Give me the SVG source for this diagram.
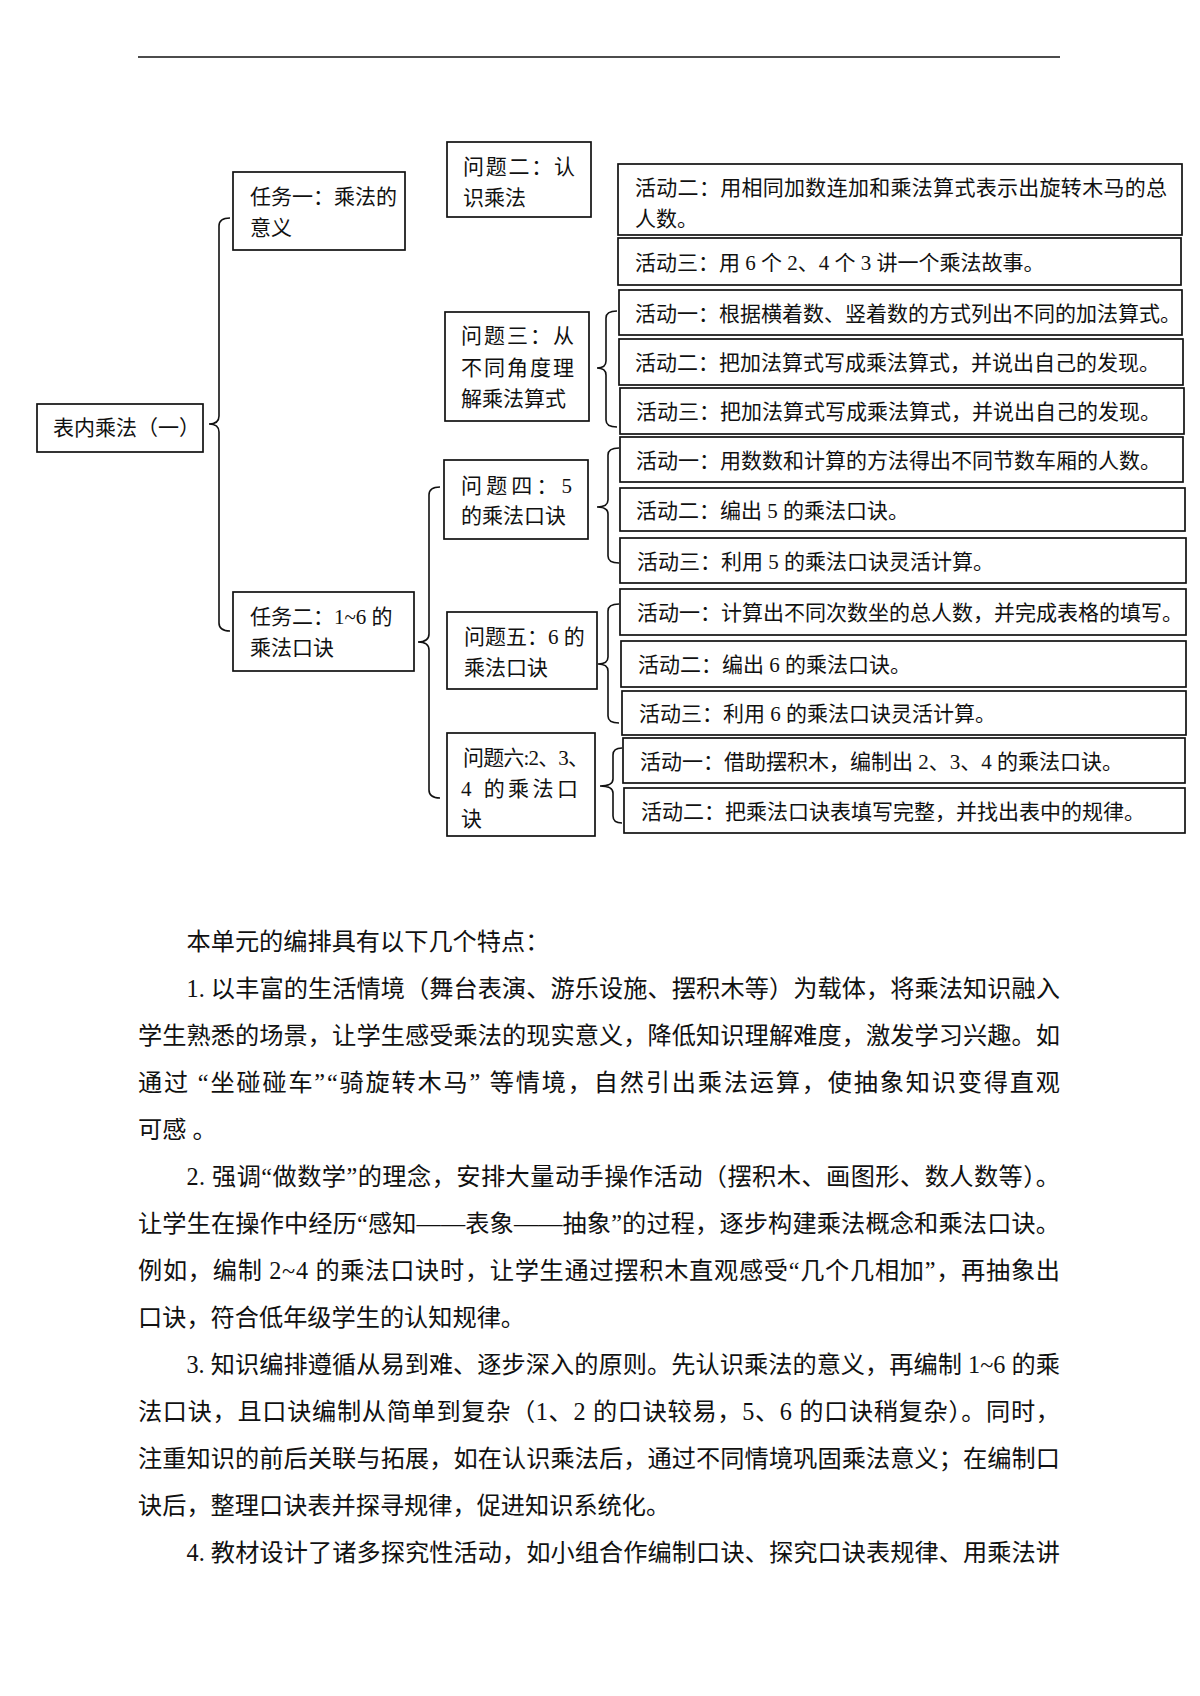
<svg xmlns="http://www.w3.org/2000/svg" width="1200" height="1696" viewBox="0 0 1200 1696">
<style>
.bx{fill:#fff;stroke:#111;stroke-width:1.7}
.br{fill:none;stroke:#111;stroke-width:1.6}
.t{font-family:"Liberation Serif","Noto Sans CJK SC",serif;font-size:21px;fill:#111}
.p{font-family:"Liberation Serif","Noto Sans CJK SC",serif;font-size:24.2px;fill:#111}
</style>
<rect x="0" y="0" width="1200" height="1696" fill="#fff"/>
<line x1="138" y1="57" x2="1060" y2="57" stroke="#111" stroke-width="1.6"/>

<g id="connectors">
<path class="br" d="M230,218 Q219,218 219,226 V416 Q219,424 209,424 Q219,424 219,432 V623 Q219,631 230,631"/>
<path class="br" d="M440,487 Q429,487 429,495 V634 Q429,642 418,642 Q429,642 429,650 V790 Q429,798 440,798"/>
<path class="br" d="M617,311 Q606,311 606,318 V361 Q606,368 597,368 Q606,368 606,375 V420 Q606,427 617,427"/>
<path class="br" d="M619,448 Q608,448 608,455 V500 Q608,507 597,507 Q608,507 608,514 V556 Q608,563 619,563"/>
<path class="br" d="M619,604 Q608,604 608,611 V657 Q608,664 598,664 Q608,664 608,671 V716 Q608,723 619,723"/>
<path class="br" d="M622,748 Q613,748 613,755 V779 Q613,786 600,786 Q613,786 613,793 V816 Q613,823 622,823"/>
</g>

<g id="root">
<rect class="bx" x="37" y="404" width="166" height="48"/>
<text class="t" x="53" y="434.5">表内乘法（一）</text>
</g>

<g id="task1">
<rect class="bx" x="233" y="172" width="172" height="78"/>
<text class="t" x="250" y="203.5">任务一：乘法的</text>
<text class="t" x="250" y="234.5">意义</text>
</g>

<g id="task2">
<rect class="bx" x="233" y="592" width="181" height="79"/>
<text class="t" x="250" y="623.5">任务二：1~6 的</text>
<text class="t" x="250" y="654.5">乘法口诀</text>
</g>

<g id="q2">
<rect class="bx" x="447" y="142" width="144" height="75"/>
<text class="t" x="463" y="173.5" textLength="112" lengthAdjust="spacing">问题二：认</text>
<text class="t" x="463" y="204.5">识乘法</text>
</g>

<g id="q3">
<rect class="bx" x="445" y="312" width="144" height="109"/>
<text class="t" x="461" y="342.5" textLength="113" lengthAdjust="spacing">问题三：从</text>
<text class="t" x="461" y="374.5" textLength="113" lengthAdjust="spacing">不同角度理</text>
<text class="t" x="461" y="405.5">解乘法算式</text>
</g>

<g id="q4">
<rect class="bx" x="444" y="460" width="144" height="79"/>
<text class="t" x="461" y="492.5" textLength="111" lengthAdjust="spacing">问题四：5</text>
<text class="t" x="461" y="522.5">的乘法口诀</text>
</g>

<g id="q5">
<rect class="bx" x="447" y="612" width="150" height="77"/>
<text class="t" x="464" y="643.5">问题五：6 的</text>
<text class="t" x="464" y="674.5">乘法口诀</text>
</g>

<g id="q6">
<rect class="bx" x="447" y="733" width="148" height="103"/>
<text class="t" x="463" y="764.5" textLength="126" lengthAdjust="spacing">问题六:2、3、</text>
<text class="t" x="461" y="795.5" textLength="117" lengthAdjust="spacing">4 的乘法口</text>
<text class="t" x="461" y="825.5">诀</text>
</g>

<g id="q2a2">
<rect class="bx" x="618" y="164" width="564" height="71"/>
<text class="t" x="635" y="195" textLength="532" lengthAdjust="spacing">活动二：用相同加数连加和乘法算式表示出旋转木马的总</text>
<text class="t" x="635" y="225.5">人数。</text>
</g>
<g id="q2a3">
<rect class="bx" x="618" y="238" width="563" height="47"/>
<text class="t" x="635" y="269.5">活动三：用 6 个 2、4 个 3 讲一个乘法故事。</text>
</g>
<g id="q3a1">
<rect class="bx" x="619" y="290" width="563" height="45"/>
<text class="t" x="635" y="320.5">活动一：根据横着数、竖着数的方式列出不同的加法算式。</text>
</g>
<g id="q3a2">
<rect class="bx" x="619" y="339" width="564" height="46"/>
<text class="t" x="635" y="370">活动二：把加法算式写成乘法算式，并说出自己的发现。</text>
</g>
<g id="q3a3">
<rect class="bx" x="620" y="388" width="564" height="46"/>
<text class="t" x="636" y="419">活动三：把加法算式写成乘法算式，并说出自己的发现。</text>
</g>
<g id="q4a1">
<rect class="bx" x="620" y="437" width="563" height="45"/>
<text class="t" x="636" y="467.5">活动一：用数数和计算的方法得出不同节数车厢的人数。</text>
</g>
<g id="q4a2">
<rect class="bx" x="620" y="488" width="565" height="43"/>
<text class="t" x="636" y="517.5">活动二：编出 5 的乘法口诀。</text>
</g>
<g id="q4a3">
<rect class="bx" x="620" y="538" width="566" height="45"/>
<text class="t" x="637" y="568.5">活动三：利用 5 的乘法口诀灵活计算。</text>
</g>
<g id="q5a1">
<rect class="bx" x="620" y="589" width="566" height="46"/>
<text class="t" x="637" y="620">活动一：计算出不同次数坐的总人数，并完成表格的填写。</text>
</g>
<g id="q5a2">
<rect class="bx" x="621" y="641" width="565" height="46"/>
<text class="t" x="638" y="672">活动二：编出 6 的乘法口诀。</text>
</g>
<g id="q5a3">
<rect class="bx" x="622" y="691" width="564" height="44"/>
<text class="t" x="639" y="721">活动三：利用 6 的乘法口诀灵活计算。</text>
</g>
<g id="q6a1">
<rect class="bx" x="623" y="738" width="562" height="45"/>
<text class="t" x="640" y="768.5">活动一：借助摆积木，编制出 2、3、4 的乘法口诀。</text>
</g>
<g id="q6a2">
<rect class="bx" x="624" y="788" width="561" height="45"/>
<text class="t" x="641" y="818.5">活动二：把乘法口诀表填写完整，并找出表中的规律。</text>
</g>

<g id="paragraphs">
<text class="p" x="186.5" y="950">本单元的编排具有以下几个特点：</text>
<text class="p" x="186.5" y="997" textLength="873.5" lengthAdjust="spacing">1. 以丰富的生活情境（舞台表演、游乐设施、摆积木等）为载体，将乘法知识融入</text>
<text class="p" x="138" y="1044" textLength="922" lengthAdjust="spacing">学生熟悉的场景，让学生感受乘法的现实意义，降低知识理解难度，激发学习兴趣。如</text>
<text class="p" x="138" y="1091" textLength="922" lengthAdjust="spacing">通过 “坐碰碰车”“骑旋转木马” 等情境，自然引出乘法运算，使抽象知识变得直观</text>
<text class="p" x="138" y="1138">可感 。</text>
<text class="p" x="186.5" y="1185" textLength="873.5" lengthAdjust="spacing">2. 强调“做数学”的理念，安排大量动手操作活动（摆积木、画图形、数人数等）。</text>
<text class="p" x="138" y="1232" textLength="922" lengthAdjust="spacing">让学生在操作中经历“感知——表象——抽象”的过程，逐步构建乘法概念和乘法口诀。</text>
<text class="p" x="138" y="1279" textLength="922" lengthAdjust="spacing">例如，编制 2~4 的乘法口诀时，让学生通过摆积木直观感受“几个几相加”，再抽象出</text>
<text class="p" x="138" y="1326">口诀，符合低年级学生的认知规律。</text>
<text class="p" x="186.5" y="1373" textLength="873.5" lengthAdjust="spacing">3. 知识编排遵循从易到难、逐步深入的原则。先认识乘法的意义，再编制 1~6 的乘</text>
<text class="p" x="138" y="1420" textLength="922" lengthAdjust="spacing">法口诀，且口诀编制从简单到复杂（1、2 的口诀较易，5、6 的口诀稍复杂）。同时，</text>
<text class="p" x="138" y="1467" textLength="922" lengthAdjust="spacing">注重知识的前后关联与拓展，如在认识乘法后，通过不同情境巩固乘法意义；在编制口</text>
<text class="p" x="138" y="1514">诀后，整理口诀表并探寻规律，促进知识系统化。</text>
<text class="p" x="186.5" y="1561" textLength="873.5" lengthAdjust="spacing">4. 教材设计了诸多探究性活动，如小组合作编制口诀、探究口诀表规律、用乘法讲</text>
</g>
</svg>
